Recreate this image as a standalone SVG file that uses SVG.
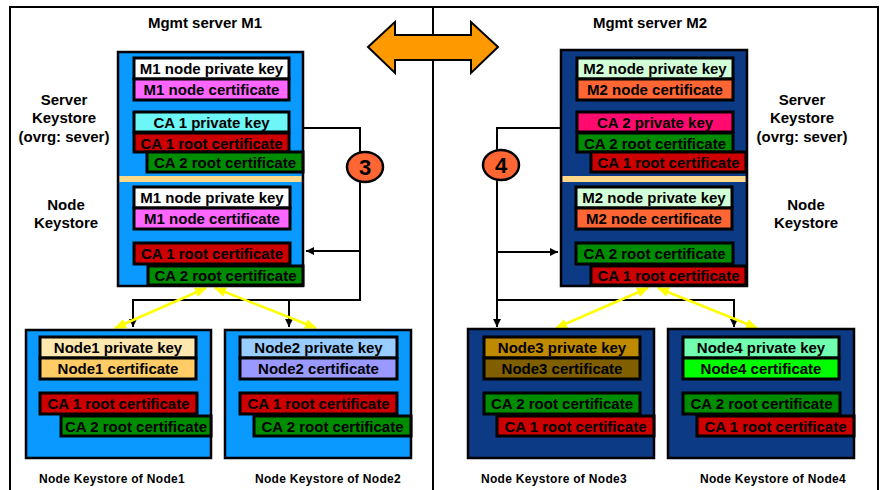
<svg xmlns="http://www.w3.org/2000/svg" width="882" height="490" viewBox="0 0 882 490">
<defs>
<style>
text{font-family:"Liberation Sans",Arial,sans-serif;font-weight:bold;fill:#000}
.k{font-size:15px;text-anchor:middle}
.lbl{font-size:15px;text-anchor:middle}
.cap{font-size:12px;text-anchor:middle;letter-spacing:0.3px}
.b{stroke:#000;stroke-width:3}
.ks{stroke:#000;stroke-width:2.5}
.lt{fill:#0A99FF}
.dk{fill:#0D3A84}
.sep{fill:#FFD88A}
.con{fill:none;stroke:#000;stroke-width:2}
.yl{fill:none;stroke:#FFFF00;stroke-width:2.5}
</style>
<marker id="ah" markerWidth="8" markerHeight="8" refX="8" refY="4" orient="auto" markerUnits="userSpaceOnUse"><path d="M0,0 L8,4 L0,8 z" fill="#000"/></marker>
<marker id="yh" markerWidth="12" markerHeight="10" refX="11" refY="5" orient="auto-start-reverse" markerUnits="userSpaceOnUse"><path d="M0,0 L12,5 L0,10 z" fill="#FFFF00"/></marker>
</defs>
<rect width="882" height="490" fill="#fff"/>
<!-- frame -->
<g id="frame" fill="none" stroke="#000" stroke-width="2">
<path d="M10,492 V7 H878 V492"/>
<path d="M433,7 V492"/>
</g>
<text class="lbl" x="205" y="28">Mgmt server M1</text>
<text class="lbl" x="650" y="28">Mgmt server M2</text>
<text class="lbl" x="64" y="105">Server</text>
<text class="lbl" x="64" y="123">Keystore</text>
<text class="lbl" x="64" y="142">(ovrg: sever)</text>
<text class="lbl" x="66" y="210">Node</text>
<text class="lbl" x="66" y="228">Keystore</text>
<text class="lbl" x="802" y="105">Server</text>
<text class="lbl" x="802" y="123">Keystore</text>
<text class="lbl" x="802" y="142">(ovrg: sever)</text>
<text class="lbl" x="806" y="210">Node</text>
<text class="lbl" x="806" y="228">Keystore</text>
<!-- orange exchange arrow -->
<polygon id="exchange" points="368,47 395,22 395,35 471,35 471,22 498,47 471,73 471,60 395,60 395,73" fill="#FF9900" stroke="#000" stroke-width="2" stroke-linejoin="miter"/>
<!-- connectors -->
<g id="connectors">
<path class="con" d="M304,128 H360 V300 H133 V327" marker-end="url(#ah)"/>
<path class="con" d="M360,251 H306" marker-end="url(#ah)"/>
<path class="con" d="M289,300 V327" marker-end="url(#ah)"/>
<path class="con" d="M560,128 H497 V327" marker-end="url(#ah)"/>
<path class="con" d="M497,300 H734 V327" marker-end="url(#ah)"/>
<path class="con" d="M497,252 H558" marker-end="url(#ah)"/>
<path class="yl" d="M206,288 L115,328" marker-start="url(#yh)" marker-end="url(#yh)"/>
<path class="yl" d="M215,288 L316,328" marker-start="url(#yh)" marker-end="url(#yh)"/>
<path class="yl" d="M648,288 L556,328" marker-start="url(#yh)" marker-end="url(#yh)"/>
<path class="yl" d="M658,288 L757,328" marker-start="url(#yh)" marker-end="url(#yh)"/>
</g>
<g id="step3">
<ellipse cx="365" cy="167" rx="18" ry="15" fill="#FF6633" stroke="#000" stroke-width="2.5"/>
<text x="365" y="175" font-size="22" text-anchor="middle">3</text>
</g>
<g id="step4">
<ellipse cx="501" cy="165" rx="18" ry="15" fill="#FF6633" stroke="#000" stroke-width="2.5"/>
<text x="501" y="173" font-size="22" text-anchor="middle">4</text>
</g>
<!-- M1 -->
<g id="m1">
<rect class="ks lt" x="118" y="52" width="185" height="234"/>
<rect class="sep" x="119.5" y="176" width="182" height="6"/>
<rect class="b" x="134" y="58" width="155" height="21" fill="#FFFFFF"/>
<text class="k" x="211.5" y="74">M1 node private key</text>
<rect class="b" x="134" y="79" width="155" height="21" fill="#FF66FF"/>
<text class="k" x="211.5" y="95">M1 node certificate</text>
<rect class="b" x="134" y="112" width="155" height="20" fill="#6CF6F6"/>
<text class="k" x="211.5" y="127.5">CA 1 private key</text>
<rect class="b" x="134" y="133" width="155" height="19" fill="#CC0000"/>
<text class="k" x="211.5" y="148.5">CA 1 root certificate</text>
<rect class="b" x="147" y="152" width="156" height="20" fill="#008C00"/>
<text class="k" x="225" y="167.5">CA 2 root certificate</text>
<rect class="b" x="134" y="187" width="156" height="21" fill="#FFFFFF"/>
<text class="k" x="212" y="203">M1 node private key</text>
<rect class="b" x="134" y="208" width="156" height="21" fill="#FF66FF"/>
<text class="k" x="212" y="224">M1 node certificate</text>
<rect class="b" x="134" y="243" width="156" height="21" fill="#CC0000"/>
<text class="k" x="212" y="259">CA 1 root certificate</text>
<rect class="b" x="148" y="266" width="155" height="19" fill="#008C00"/>
<text class="k" x="225.5" y="281">CA 2 root certificate</text>
</g>
<!-- M2 -->
<g id="m2">
<rect class="ks dk" x="561" y="50" width="186" height="236"/>
<rect class="sep" x="562.5" y="176" width="183" height="6"/>
<rect class="b" x="577" y="58" width="156" height="21" fill="#D2FFD8"/>
<text class="k" x="655" y="74">M2 node private key</text>
<rect class="b" x="577" y="79" width="156" height="21" fill="#FF6633"/>
<text class="k" x="655" y="95">M2 node certificate</text>
<rect class="b" x="577" y="112" width="156" height="20" fill="#FF0A6E"/>
<text class="k" x="655" y="127.5">CA 2 private key</text>
<rect class="b" x="577" y="133" width="156" height="19" fill="#008C00"/>
<text class="k" x="655" y="148.5">CA 2 root certificate</text>
<rect class="b" x="591" y="152" width="155" height="20" fill="#CC0000"/>
<text class="k" x="668.5" y="167.5">CA 1 root certificate</text>
<rect class="b" x="576" y="187" width="156" height="21" fill="#D2FFD8"/>
<text class="k" x="654" y="203">M2 node private key</text>
<rect class="b" x="576" y="208" width="156" height="21" fill="#FF6633"/>
<text class="k" x="654" y="224">M2 node certificate</text>
<rect class="b" x="576" y="243" width="157" height="21" fill="#008C00"/>
<text class="k" x="654.5" y="259">CA 2 root certificate</text>
<rect class="b" x="591" y="266" width="155" height="19" fill="#CC0000"/>
<text class="k" x="668.5" y="281">CA 1 root certificate</text>
</g>
<!-- Node1 -->
<g id="node1">
<rect class="ks lt" x="26" y="330" width="185" height="128"/>
<rect class="b" x="40" y="337" width="156" height="21" fill="#FFE8B0"/>
<text class="k" x="118" y="353">Node1 private key</text>
<rect class="b" x="40" y="358" width="156" height="21" fill="#FFCC66"/>
<text class="k" x="118" y="374">Node1 certificate</text>
<rect class="b" x="40" y="393" width="157" height="21" fill="#CC0000"/>
<text class="k" x="118.5" y="409">CA 1 root certificate</text>
<rect class="b" x="61" y="416" width="150" height="20" fill="#008C00"/>
<text class="k" x="136" y="431.5">CA 2 root certificate</text>
<text class="cap" x="112" y="483">Node Keystore of Node1</text>
</g>
<!-- Node2 -->
<g id="node2">
<rect class="ks lt" x="225" y="330" width="186" height="128"/>
<rect class="b" x="240" y="337" width="157" height="21" fill="#99CCFF"/>
<text class="k" x="318.5" y="353">Node2 private key</text>
<rect class="b" x="240" y="358" width="157" height="21" fill="#9999FF"/>
<text class="k" x="318.5" y="374">Node2 certificate</text>
<rect class="b" x="240" y="393" width="157" height="21" fill="#CC0000"/>
<text class="k" x="318.5" y="409">CA 1 root certificate</text>
<rect class="b" x="254" y="416" width="157" height="20" fill="#008C00"/>
<text class="k" x="332.5" y="431.5">CA 2 root certificate</text>
<text class="cap" x="328" y="483">Node Keystore of Node2</text>
</g>
<!-- Node3 -->
<g id="node3">
<rect class="ks dk" x="468" y="329" width="186" height="129"/>
<rect class="b" x="484" y="337" width="156" height="21" fill="#C08A00"/>
<text class="k" x="562" y="353">Node3 private key</text>
<rect class="b" x="484" y="358" width="156" height="21" fill="#7F5F00"/>
<text class="k" x="562" y="374">Node3 certificate</text>
<rect class="b" x="484" y="393" width="156" height="21" fill="#008C00"/>
<text class="k" x="562" y="409">CA 2 root certificate</text>
<rect class="b" x="497" y="416" width="157" height="20" fill="#CC0000"/>
<text class="k" x="575.5" y="431.5">CA 1 root certificate</text>
<text class="cap" x="554" y="483">Node Keystore of Node3</text>
</g>
<!-- Node4 -->
<g id="node4">
<rect class="ks dk" x="668" y="329" width="186" height="129"/>
<rect class="b" x="683" y="337" width="156" height="21" fill="#70FFB0"/>
<text class="k" x="761" y="353">Node4 private key</text>
<rect class="b" x="683" y="358" width="156" height="21" fill="#00FF00"/>
<text class="k" x="761" y="374">Node4 certificate</text>
<rect class="b" x="683" y="393" width="157" height="21" fill="#008C00"/>
<text class="k" x="761.5" y="409">CA 2 root certificate</text>
<rect class="b" x="697" y="416" width="157" height="20" fill="#CC0000"/>
<text class="k" x="775.5" y="431.5">CA 1 root certificate</text>
<text class="cap" x="773" y="483">Node Keystore of Node4</text>
</g>
</svg>
